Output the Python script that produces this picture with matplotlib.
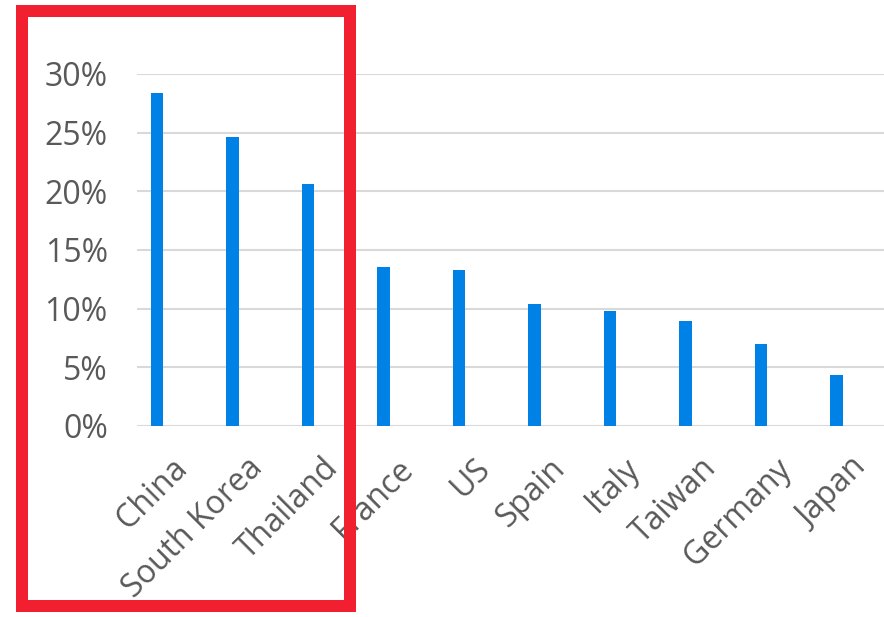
import matplotlib
matplotlib.use("Agg")
import matplotlib.pyplot as plt
from matplotlib.patches import Rectangle
from matplotlib.ticker import FuncFormatter
from matplotlib.transforms import ScaledTranslation

categories = ["China", "South Korea", "Thailand", "France", "US", "Spain",
              "Italy", "Taiwan", "Germany", "Japan"]
values = [0.284, 0.246, 0.206, 0.1355, 0.133, 0.104, 0.098, 0.0895, 0.070, 0.0435]
yticks = [0, 0.05, 0.10, 0.15, 0.20, 0.25, 0.30]

W, H = 884, 617
fig = plt.figure(figsize=(W / 100, H / 100), dpi=100)
plt.rcParams['font.family'] = ['Open Sans', 'DejaVu Sans']

ax_left, ax_right, ax_top, ax_bot = 137, 884, 74, 426
ax = fig.add_axes([ax_left / W, 1 - ax_bot / H, (ax_right - ax_left) / W, (ax_bot - ax_top) / H])

x = list(range(len(categories)))
ax.bar(x, values, width=0.17, color="#0081E6", zorder=3)
ax.set_ylim(0, 0.30)
ax.set_xlim(-0.265, 9.63)
ax.set_yticks(yticks)
ax.yaxis.set_major_formatter(FuncFormatter(lambda v, p: f"{v*100:.0f}%"))
ax.grid(axis='y', color="#D9D9D9", linewidth=1.5, zorder=0)
ax.set_axisbelow(True)
for s in ax.spines.values():
    s.set_visible(False)
ax.tick_params(axis='y', length=0, labelsize=23, colors="#595959", pad=21)
ax.tick_params(axis='x', length=0, labelsize=23, colors="#595959", pad=10)
ax.set_xticks(x)
ax.set_xticklabels(categories, rotation=45, ha='right', va='top', rotation_mode='anchor')
off = ScaledTranslation(14 / 100, -12 / 100, fig.dpi_scale_trans)
for t in ax.get_xticklabels():
    t.set_transform(t.get_transform() + off)

# red highlight box
bx0, by0, bx1, by1 = 22, 11, 350, 606
fig.patches.append(Rectangle((bx0 / W, 1 - by1 / H), (bx1 - bx0) / W, (by1 - by0) / H,
                             transform=fig.transFigure, fill=False,
                             edgecolor="#F21F30", linewidth=12 * 0.72, zorder=10))

fig.savefig("out.png", dpi=100)
